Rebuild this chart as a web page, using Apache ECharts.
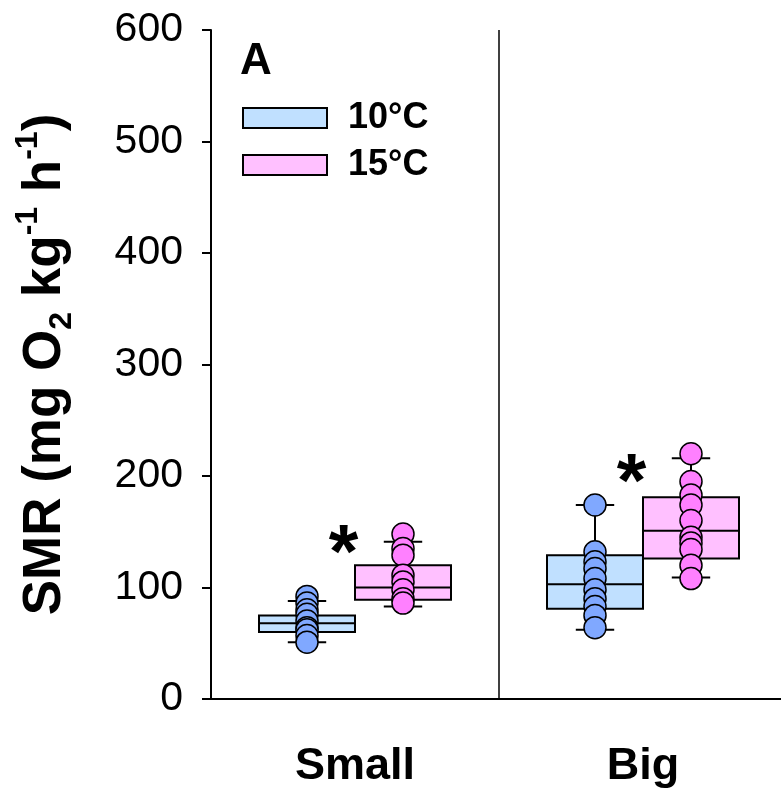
<!DOCTYPE html>
<html>
<head>
<meta charset="utf-8">
<script src="https://cdn.jsdelivr.net/npm/echarts@6/dist/echarts.min.js"></script>
<style>
  html, body { margin: 0; padding: 0; background: #fff; }
  #SmrChart { width: 781px; height: 793px; }
</style>
</head>
<body>
<div id="SmrChart"></div>
<script>
// groups on the x axis and the two temperatures
const categories = ["Small", "Big"];
const tempNames = ["10°C", "15°C"];

// box stats per group: [whisker low, q1, median, q3, whisker high]
const boxStats10 = [
  [51, 60, 68, 75, 88],
  [62, 81, 103, 129, 174],
];
const boxStats15 = [
  [83, 89, 100, 120, 141],
  [109, 126, 151, 181, 216],
];

// individual fish, per group
const points10 = [
  [92, 86, 80, 76, 70, 64, 62, 57, 51],
  [174, 132, 123, 117, 108, 98, 90, 83, 75, 64],
];
const points15 = [
  [148, 135, 129, 111, 105, 98, 90, 86],
  [220, 195, 183, 174, 160, 145, 140, 134, 120, 108],
];

// where the "*" sits in each group
const sigValues = [144, 208];

const yTicks = [0, 100, 200, 300, 400, 500, 600];

const boxFill = ["#C0E0FF", "#FFC0FF"];
const dotFill = ["#80A8FF", "#FF80FF"];

function makeBoxRenderer(side, fill) {
  return function (params, api) {
    const idx = api.value(0);
    const band = api.size([1, 0])[0];
    const boxW = band / 3;
    const mid = api.coord([idx, api.value(3)]);
    const left = side < 0 ? mid[0] - boxW : mid[0];
    const cx = left + boxW / 2;
    const yLow = api.coord([idx, api.value(1)])[1];
    const yQ1 = api.coord([idx, api.value(2)])[1];
    const yQ3 = api.coord([idx, api.value(4)])[1];
    const yHigh = api.coord([idx, api.value(5)])[1];
    const capW = boxW * 0.4;
    const ln = { stroke: "#000", lineWidth: 2 };
    return {
      type: "group",
      children: [
        { type: "line", shape: { x1: cx, y1: yLow, x2: cx, y2: yQ1 }, style: ln },
        { type: "line", shape: { x1: cx, y1: yQ3, x2: cx, y2: yHigh }, style: ln },
        { type: "line", shape: { x1: cx - capW / 2, y1: yLow, x2: cx + capW / 2, y2: yLow }, style: ln },
        { type: "line", shape: { x1: cx - capW / 2, y1: yHigh, x2: cx + capW / 2, y2: yHigh }, style: ln },
        {
          type: "rect",
          shape: { x: left, y: yQ3, width: boxW, height: yQ1 - yQ3 },
          style: { fill: fill, stroke: "#000", lineWidth: 2 },
        },
        { type: "line", shape: { x1: left, y1: mid[1], x2: left + boxW, y2: mid[1] }, style: ln },
      ],
    };
  };
}

function boxRows(stats) {
  return stats.map((s, i) => [i].concat(s));
}

function dotRows(points, offset) {
  const rows = [];
  points.forEach((vals, i) => {
    vals.forEach((v) => rows.push([i + offset, v]));
  });
  return rows;
}

const myChart = echarts.init(document.getElementById("SmrChart"));

const option = {
  animation: false,
  title: {
    text: "A",
    left: 240,
    top: 40,
    padding: 0,
    textStyle: { fontFamily: "Liberation Sans", fontSize: 44, fontWeight: "bold", color: "#000", lineHeight: 44 },
  },
  legend: {
    orient: "vertical",
    left: 242,
    top: 98,
    padding: 0,
    itemWidth: 84,
    itemHeight: 20,
    itemGap: 7,
    selectedMode: false,
    textStyle: {
      fontFamily: "Liberation Sans",
      fontSize: 36,
      fontWeight: "bold",
      color: "#000",
      lineHeight: 40,
      padding: [0, 0, 0, 16],
    },
    data: [
      { name: tempNames[0], icon: "rect", itemStyle: { color: boxFill[0], borderColor: "#000", borderWidth: 2 } },
      { name: tempNames[1], icon: "rect", itemStyle: { color: boxFill[1], borderColor: "#000", borderWidth: 2 } },
    ],
  },
  grid: {
    left: 211,
    right: -6,
    top: 30,
    bottom: 94,
    outerBoundsMode: "none",
  },
  xAxis: [
    {
      type: "category",
      data: categories,
      boundaryGap: true,
      axisLine: { show: true, lineStyle: { color: "#000", width: 2 } },
      axisTick: { show: false },
      axisLabel: {
        interval: 0,
        margin: 45,
        fontFamily: "Liberation Sans",
        fontSize: 45,
        fontWeight: "bold",
        color: "#000",
      },
      splitLine: { show: true, interval: 0, lineStyle: { color: "#000", width: 1.5 } },
    },
    {
      type: "value",
      min: -0.5,
      max: 1.5,
      show: false,
      splitLine: { show: false },
    },
  ],
  yAxis: {
    type: "value",
    min: yTicks[0],
    max: yTicks[yTicks.length - 1],
    interval: yTicks[1] - yTicks[0],
    name: "SMR (mg O{sub|2} kg{sup|-1} h{sup|-1})",
    nameLocation: "middle",
    nameGap: 133,
    nameTextStyle: {
      fontFamily: "Liberation Sans",
      fontSize: 53,
      fontWeight: "bold",
      color: "#000",
      lineHeight: 66,
      rich: {
        sub: { fontFamily: "Liberation Sans", fontSize: 32, fontWeight: "bold", lineHeight: 30, verticalAlign: "bottom" },
        sup: { fontFamily: "Liberation Sans", fontSize: 32, fontWeight: "bold", lineHeight: 30, verticalAlign: "top" },
      },
    },
    axisLine: { show: true, onZero: false, lineStyle: { color: "#000", width: 2 } },
    axisTick: { show: true, inside: false, length: 9, lineStyle: { color: "#000", width: 2 } },
    axisLabel: {
      margin: 28,
      fontFamily: "Liberation Sans",
      fontSize: 41,
      color: "#000",
    },
    splitLine: { show: false },
  },
  series: [
    {
      name: tempNames[0],
      type: "custom",
      renderItem: makeBoxRenderer(-1, boxFill[0]),
      encode: { x: 0, y: [1, 2, 3, 4, 5] },
      itemStyle: { color: boxFill[0] },
      data: boxRows(boxStats10),
      z: 2,
    },
    {
      name: tempNames[1],
      type: "custom",
      renderItem: makeBoxRenderer(1, boxFill[1]),
      encode: { x: 0, y: [1, 2, 3, 4, 5] },
      itemStyle: { color: boxFill[1] },
      data: boxRows(boxStats15),
      z: 2,
    },
    {
      name: "dots10",
      type: "scatter",
      xAxisIndex: 1,
      symbolSize: 22,
      itemStyle: { color: dotFill[0], borderColor: "#000", borderWidth: 1.5, opacity: 1 },
      emphasis: { disabled: true },
      data: dotRows(points10, -1 / 6),
      z: 3,
    },
    {
      name: "dots15",
      type: "scatter",
      xAxisIndex: 1,
      symbolSize: 22,
      itemStyle: { color: dotFill[1], borderColor: "#000", borderWidth: 1.5, opacity: 1 },
      emphasis: { disabled: true },
      data: dotRows(points15, 1 / 6),
      z: 3,
    },
    {
      name: "sig",
      type: "scatter",
      xAxisIndex: 1,
      symbolSize: 1,
      itemStyle: { color: "rgba(0,0,0,0)" },
      emphasis: { disabled: true },
      data: sigValues.map((v, i) => [i - 0.04, v]),
      label: {
        show: true,
        position: "inside",
        formatter: "*",
        offset: [0, 18],
        fontFamily: "Liberation Sans",
        fontSize: 76,
        fontWeight: "bold",
        color: "#000",
        textBorderWidth: 0,
        opacity: 1,
      },
      z: 4,
    },
  ],
};

myChart.setOption(option);
</script>
</body>
</html>
